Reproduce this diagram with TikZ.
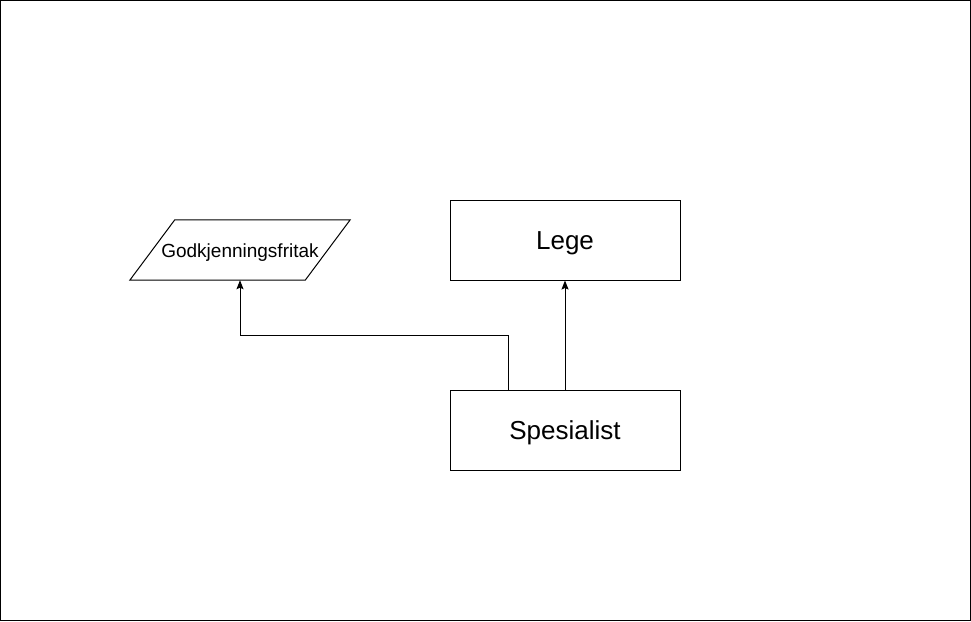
\documentclass[tikz,border=0pt]{standalone}
\usepackage{fontspec}
\setmainfont{Liberation Sans}
\usetikzlibrary{arrows.meta}
\begin{document}
\begin{tikzpicture}[x=1pt,y=-1pt,
  box/.style={draw,line width=1pt,minimum width=230pt,minimum height=80pt,inner sep=0pt,font=\fontsize{26}{30}\selectfont},
  arr/.style={line width=1pt,-{Stealth[length=9pt,width=7pt,inset=1.5pt]}}]
\useasboundingbox (0,0) rectangle (971,621);
\draw[line width=1pt] (0.5,0.5) rectangle (970.5,620.5);
\node[box] (lege) at (565,240) {};
\node[box] (spes) at (565,430) {};
\node[font=\fontsize{26}{30}\selectfont,inner sep=0pt] (legetxt) at ([yshift=-3pt]lege.center) {Lege};
\node[font=\fontsize{26}{30}\selectfont,inner sep=0pt] (spestxt) at ([yshift=-3pt]spes.center) {Spesialist};
\node[minimum width=220pt,minimum height=60pt,inner sep=0pt] (gf) at (240,250) {};
\node[font=\fontsize{19}{22}\selectfont,inner sep=0pt] (gftxt) at ([yshift=-2.5pt]gf.center) {Godkjenningsfritak};
\draw[line width=1pt] ([xshift=45pt]gf.north west) -- (gf.north east) -- ([xshift=-45pt]gf.south east) -- (gf.south west) -- cycle;
\draw[arr] (spes.north) -- (lege.south);
\coordinate (s1) at ([xshift=-57pt]spes.north);
\draw[arr] (s1) |- (240,335) -| (gf.south);
\end{tikzpicture}
\end{document}
